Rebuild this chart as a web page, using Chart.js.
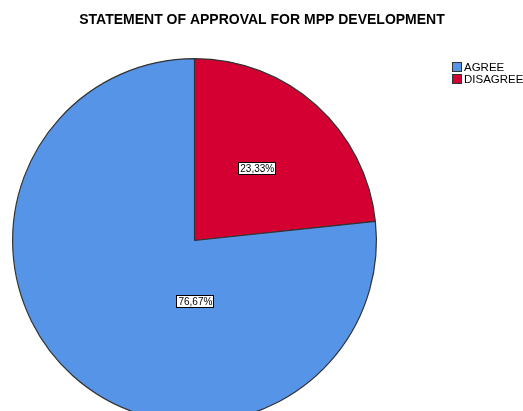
<!DOCTYPE html>
<html>
<head>
<meta charset="utf-8">
<script src="https://cdn.jsdelivr.net/npm/chart.js@4"></script>
<style>
  html, body { margin: 0; padding: 0; background: #fff; overflow: hidden; }
  #wrap { width: 523px; height: 440px; }
</style>
</head>
<body>
<div id="wrap"><canvas id="pie"></canvas></div>
<script>
const categories = ['DISAGREE', 'AGREE'];
const percents = [23.33, 76.67];
const sliceColors = ['#D50032', '#5594E6'];
const legendOrder = ['AGREE', 'DISAGREE'];
const titleText = 'STATEMENT OF APPROVAL FOR MPP DEVELOPMENT';

// where each % label sits, as fraction of radius from centre (SPSS style)
const labelSpots = [
    { dx: 0.345, dy: -0.395 },
    { dx: 0.005, dy: 0.335 },
];

const fmt = v => v.toFixed(2).replace('.', ',') + '%';

const extras = {
    id: 'extras',
    afterDraw(chart) {
        const ctx = chart.ctx;
        ctx.save();
        // title
        ctx.fillStyle = '#000';
        ctx.font = 'bold 14px "Liberation Sans", Arial, sans-serif';
        ctx.textAlign = 'center';
        ctx.textBaseline = 'middle';
        ctx.fillText(titleText, 262, 20);

        // legend
        ctx.font = '11.5px "Liberation Sans", Arial, sans-serif';
        ctx.textAlign = 'left';
        legendOrder.forEach((name, i) => {
            const idx = categories.indexOf(name);
            const y = 62 + i * 12;
            ctx.fillStyle = sliceColors[idx];
            ctx.fillRect(452, y, 10, 10);
            ctx.strokeStyle = '#333';
            ctx.lineWidth = 1;
            ctx.strokeRect(452.5, y + 0.5, 9, 9);
            ctx.fillStyle = '#000';
            ctx.fillText(name, 464, y + 5.5);
        });

        // value labels
        const arcs = chart.getDatasetMeta(0).data;
        ctx.font = '10px "Liberation Sans", Arial, sans-serif';
        ctx.textAlign = 'center';
        arcs.forEach((arc, i) => {
            const r = arc.outerRadius;
            const x = arc.x + labelSpots[i].dx * r;
            const y = arc.y + labelSpots[i].dy * r;
            const txt = fmt(percents[i]);
            const w = ctx.measureText(txt).width + 4;
            const h = 13;
            ctx.fillStyle = '#fff';
            ctx.fillRect(Math.round(x - w / 2), Math.round(y - h / 2), Math.round(w), h);
            ctx.strokeStyle = '#000';
            ctx.strokeRect(Math.round(x - w / 2) + 0.5, Math.round(y - h / 2) + 0.5, Math.round(w) - 1, h - 1);
            ctx.fillStyle = '#000';
            ctx.fillText(txt, x, y + 0.5);
        });
        ctx.restore();
    }
};

new Chart(document.querySelector('#pie'), {
    type: 'pie',
    data: {
        labels: categories,
        datasets: [{
            data: percents,
            backgroundColor: sliceColors,
            borderColor: '#333',
            borderWidth: 1.2,
        }]
    },
    options: {
        responsive: true,
        maintainAspectRatio: false,
        animation: false,
        layout: {
            padding: { left: 12, right: 146, top: 58, bottom: 17 }
        },
        plugins: {
            legend: { display: false },
            title: { display: false },
            tooltip: { enabled: false }
        }
    },
    plugins: [extras]
});
</script>
</body>
</html>
